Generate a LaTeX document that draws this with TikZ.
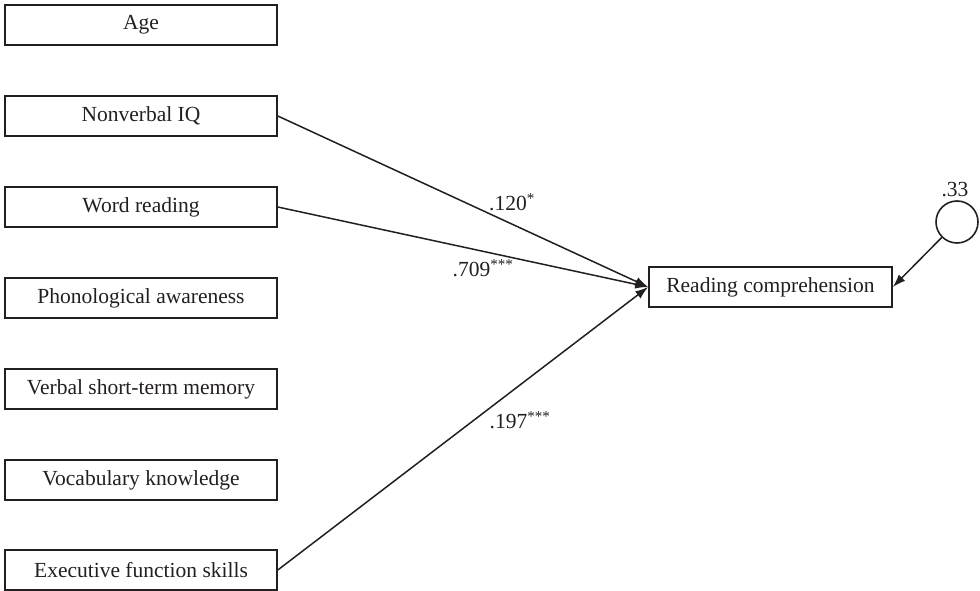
\documentclass[tikz,border=0pt]{standalone}
\usepackage{fontspec}
\setmainfont{Liberation Serif}
\usetikzlibrary{arrows.meta}
\definecolor{ink}{HTML}{231F20}
\begin{document}
\begin{tikzpicture}[x=1pt,y=-1pt,
  font=\fontsize{21.5}{25}\selectfont,
  every node/.style={text=ink},
  varbox/.style={draw=ink,line width=1.6pt,minimum width=272pt,minimum height=40pt,inner sep=0pt},
  rcbox/.style={draw=ink,line width=1.6pt,minimum width=243pt,minimum height=40pt,inner sep=0pt},
  errc/.style={draw=ink,line width=1.6pt,circle,minimum size=42pt,inner sep=0pt},
  path/.style={draw=ink,line width=1.5pt,-{Latex[length=13pt,width=9pt]}},
  coef/.style={inner sep=0pt}]
\useasboundingbox (0,0) rectangle (980,591);
\node[varbox] (age) at (141,25) {Age};
\node[varbox] (niq) at (141,116) {Nonverbal IQ};
\node[varbox] (wr) at (141,207) {Word reading};
\node[varbox] (pa) at (141,298) {Phonological awareness};
\node[varbox] (vs) at (141,389) {Verbal short-term memory};
\node[varbox] (vk) at (141,480) {Vocabulary knowledge};
\node[varbox] (ef) at (141,570) {Executive function skills};
\node[rcbox] (rc) at (770.5,287) {Reading comprehension};
\node[errc] (err) at (957,222) {};
\node[coef] (e33) at (955,190) {.33};
\draw[path] (niq.east) -- (rc.west);
\draw[path] (wr.east) -- (rc.west);
\draw[path] (ef.east) -- (rc.west);
\draw[path] (err) -- (rc.east);
\node[coef] (c1) at (512,202) {.120\textsuperscript{*}};
\node[coef] (c2) at (483,268) {.709\textsuperscript{***}};
\node[coef] (c3) at (520,420) {.197\textsuperscript{***}};
\end{tikzpicture}
\end{document}
